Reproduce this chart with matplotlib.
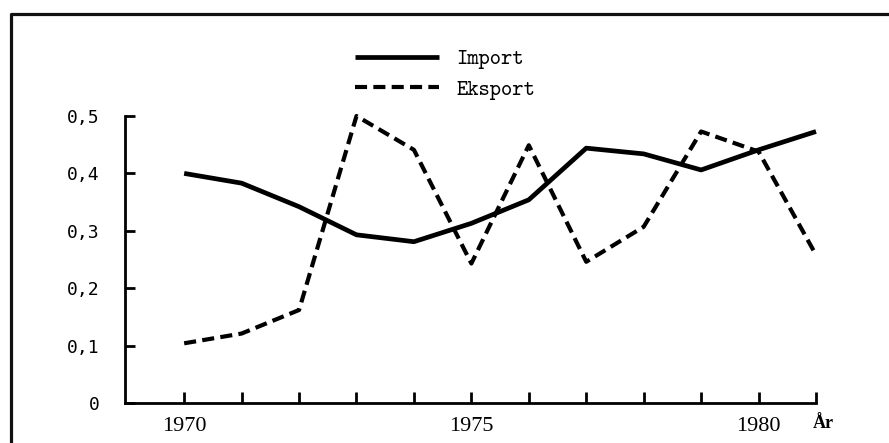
import matplotlib.pyplot as plt
from matplotlib.lines import Line2D

# verdier lest av figuren
years = [1970, 1971, 1972, 1973, 1974, 1975, 1976, 1977, 1978, 1979, 1980, 1981]
import_vals = [0.400, 0.383, 0.342, 0.293, 0.281, 0.313, 0.354, 0.444, 0.434, 0.406, 0.441, 0.473]
eksport_vals = [0.104, 0.121, 0.162, 0.500, 0.441, 0.243, 0.449, 0.246, 0.307, 0.473, 0.438, 0.258]

y_ticks = [0, 0.1, 0.2, 0.3, 0.4, 0.5]
y_labels = ["0", "0,1", "0,2", "0,3", "0,4", "0,5"]
x_labels = {1970: "1970", 1975: "1975", 1980: "1980"}

W, H = 889, 443
fig = plt.figure(figsize=(W / 100, H / 100), dpi=100)
fig.patch.set_facecolor("white")

ax = fig.add_axes([125 / W, 40 / H, (816 - 125) / W, (403 - 116) / H])

ax.plot(years, import_vals, color="black", lw=3.4, clip_on=False,
        solid_capstyle="butt", label="Import")
ax.plot(years, eksport_vals, color="black", lw=3.0, clip_on=False,
        linestyle=(0, (2.9, 1.5)), dash_capstyle="butt", label="Eksport")

ax.set_xlim(1968.97, 1981)
ax.set_ylim(0, 0.5)

for s in ["top", "right"]:
    ax.spines[s].set_visible(False)
for s in ["left", "bottom"]:
    ax.spines[s].set_linewidth(2.0)

ax.set_yticks(y_ticks)
ax.set_yticklabels(y_labels, family="DejaVu Sans Mono", fontsize=13)
ax.tick_params(axis="y", direction="in", length=7, width=2.0, pad=18)

ax.set_xticks(years)
ax.set_xticklabels([x_labels.get(y, "") for y in years],
                   family="Liberation Serif", fontsize=16)
ax.tick_params(axis="x", direction="in", length=8, width=2.0, pad=10)

ax.text(1981.12, -0.035, "År", transform=ax.transData, ha="center", va="center",
        family="Liberation Serif", fontweight="bold", fontsize=13)

leg = fig.legend(loc="upper left", bbox_to_anchor=(355 / W, 1 - 49 / H),
                 frameon=False, handlelength=3.9, handletextpad=0.8,
                 labelspacing=0.5, borderpad=0, borderaxespad=0,
                 prop={"family": "cmtt10", "size": 15.5})

# ramme rundt figuren
fig.add_artist(Line2D([11 / W, 11 / W, 1.0], [0, 1 - 14 / H, 1 - 14 / H],
                      transform=fig.transFigure, color="#111111", lw=2.3))

fig.savefig("out.png", dpi=100)
